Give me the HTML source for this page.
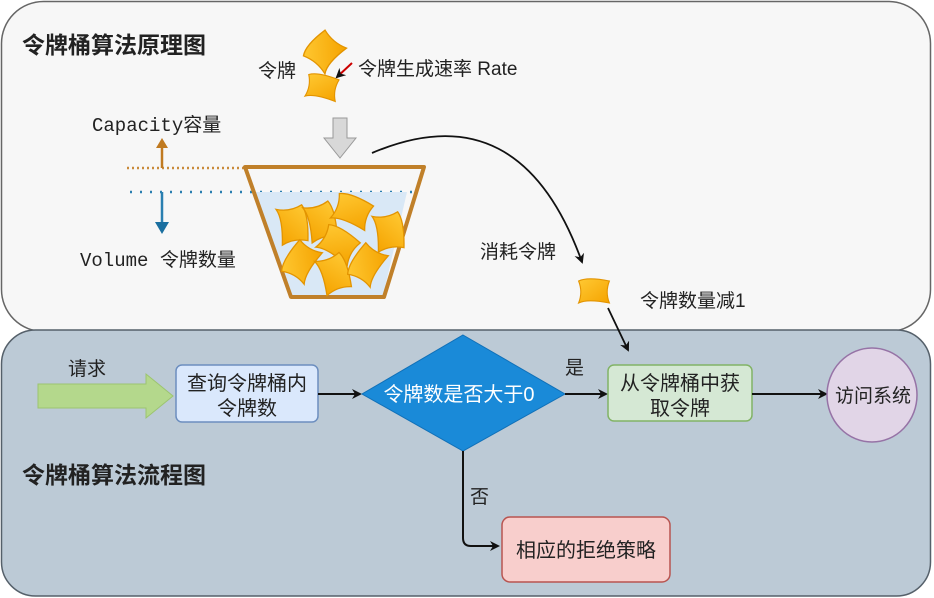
<!DOCTYPE html>
<html><head><meta charset="utf-8"><style>
html,body{margin:0;padding:0;background:#fff;}
svg{display:block;}
text{font-family:"Liberation Sans","Noto Sans CJK SC",sans-serif;fill:#222;}
.mono{font-family:"Liberation Mono","Noto Sans CJK SC",monospace;}
</style></head><body>
<svg width="934" height="598" viewBox="0 0 934 598" xmlns="http://www.w3.org/2000/svg">
<defs>
<marker id="ah" markerWidth="10" markerHeight="10" refX="8" refY="5" orient="auto" markerUnits="userSpaceOnUse"><path d="M0,0 L10,5 L0,10 L3,5 Z" fill="#111"/></marker>
<linearGradient id="tk" x1="0" y1="0" x2="1" y2="1"><stop offset="0" stop-color="#ffc933"/><stop offset="1" stop-color="#f5a300"/></linearGradient>
<g id="tok"><path d="M-14,-10 Q-6,-14 14,-10 Q10,0 14,10 Q-6,6 -14,10 Q-10,0 -14,-10 Z" fill="url(#tk)" stroke="#e39400" stroke-width="1"/></g>
</defs>
<rect x="1.5" y="1.5" width="929" height="330" rx="42" fill="#f7f7f7" stroke="#666" stroke-width="1.5"/>
<rect x="1.5" y="330" width="929" height="266" rx="34" fill="#bccad6" stroke="#55606a" stroke-width="1.5"/>
<text x="22" y="53" font-size="23" font-weight="bold">令牌桶算法原理图</text>
<use href="#tok" transform="translate(325,52) rotate(-50) scale(1.2,1.4)"/>
<use href="#tok" transform="translate(322,88) rotate(10) scale(1.1,1.1)"/>
<text x="258" y="77" font-size="19">令牌</text>
<line x1="352" y1="63" x2="337" y2="77" stroke="#c00" stroke-width="2" marker-end="url(#ah)"/>
<text x="358" y="75" font-size="19">令牌生成速率 Rate</text>
<path d="M333,118 L347,118 L347,138 L356,138 L340,158 L324,138 L333,138 Z" fill="#d8d8d8" stroke="#999"/>
<text x="92" y="131" font-size="19" class="mono">Capacity容量</text>
<line x1="127" y1="168" x2="247" y2="168" stroke="#c98a3a" stroke-width="2.5" stroke-dasharray="2,3"/>
<line x1="162" y1="168" x2="162" y2="145" stroke="#c07a20" stroke-width="2.5"/>
<path d="M156,148 L162,138 L168,148 Z" fill="#c07a20"/>
<line x1="130" y1="192" x2="412" y2="192" stroke="#2a7fb0" stroke-width="2.5" stroke-dasharray="2,8"/>
<line x1="162" y1="192" x2="162" y2="224" stroke="#2a7fb0" stroke-width="2.5"/>
<path d="M155,222 L162,234 L169,222 Z" fill="#1a6fa0"/>
<text x="80" y="266" font-size="19" class="mono">Volume 令牌数量</text>
<path d="M253,192 L407,192 L383,296 L292,296 Z" fill="#d9e8f6"/>
<path d="M245,167 L424,167 L384,297 L291,297 Z" fill="none" stroke="#c0802a" stroke-width="4" stroke-linejoin="round"/>
<use href="#tok" transform="translate(292,225) rotate(80) scale(1.3)"/>
<use href="#tok" transform="translate(320,222) rotate(75) scale(1.3)"/>
<use href="#tok" transform="translate(352,212) rotate(20) scale(1.3)"/>
<use href="#tok" transform="translate(388,232) rotate(80) scale(1.3)"/>
<use href="#tok" transform="translate(338,245) rotate(30) scale(1.3)"/>
<use href="#tok" transform="translate(302,262) rotate(-60) scale(1.3)"/>
<use href="#tok" transform="translate(333,274) rotate(70) scale(1.3)"/>
<use href="#tok" transform="translate(368,265) rotate(-60) scale(1.3)"/>
<path d="M372,153 Q520,90 582,262" fill="none" stroke="#111" stroke-width="1.8" marker-end="url(#ah)"/>
<text x="480" y="258" font-size="19">消耗令牌</text>
<use href="#tok" transform="translate(594,292) scale(1.1)"/>
<text x="640" y="307" font-size="19">令牌数量减1</text>
<line x1="608" y1="308" x2="628" y2="350" stroke="#111" stroke-width="1.8" marker-end="url(#ah)"/>
<text x="68" y="375" font-size="19">请求</text>
<path d="M38,384 L146,384 L146,374 L173,396 L146,418 L146,408 L38,408 Z" fill="#b4d88c" stroke="#9cc470"/>
<rect x="176" y="365" width="142" height="57" rx="6" fill="#dae8fc" stroke="#6c8ebf" stroke-width="1.5"/>
<text x="247" y="390" font-size="20" text-anchor="middle">查询令牌桶内</text>
<text x="247" y="415" font-size="20" text-anchor="middle">令牌数</text>
<line x1="318" y1="394" x2="360" y2="394" stroke="#111" stroke-width="2" marker-end="url(#ah)"/>
<path d="M463,335 L565,394 L463,451 L362,394 Z" fill="#1a8ad8" stroke="#1070b8"/>
<text x="459" y="401" font-size="20" text-anchor="middle" style="fill:#fff">令牌数是否大于0</text>
<text x="565" y="374" font-size="19">是</text>
<line x1="565" y1="394" x2="606" y2="394" stroke="#111" stroke-width="2" marker-end="url(#ah)"/>
<rect x="608" y="365" width="144" height="56" rx="6" fill="#d5e8d4" stroke="#82b366" stroke-width="1.5"/>
<text x="680" y="390" font-size="20" text-anchor="middle">从令牌桶中获</text>
<text x="680" y="415" font-size="20" text-anchor="middle">取令牌</text>
<line x1="752" y1="394" x2="826" y2="394" stroke="#111" stroke-width="2" marker-end="url(#ah)"/>
<ellipse cx="872" cy="395" rx="45" ry="47" fill="#e1d5e7" stroke="#9673a6" stroke-width="1.5"/>
<text x="873" y="402" font-size="19" text-anchor="middle">访问系统</text>
<text x="22" y="483" font-size="23" font-weight="bold">令牌桶算法流程图</text>
<path d="M463,451 L463,538 Q463,546 471,546 L498,546" fill="none" stroke="#111" stroke-width="2" marker-end="url(#ah)"/>
<text x="470" y="503" font-size="19">否</text>
<rect x="502" y="517" width="168" height="65" rx="8" fill="#f8cecc" stroke="#b85450" stroke-width="1.5"/>
<text x="586" y="557" font-size="20" text-anchor="middle">相应的拒绝策略</text>
</svg>
</body></html>
